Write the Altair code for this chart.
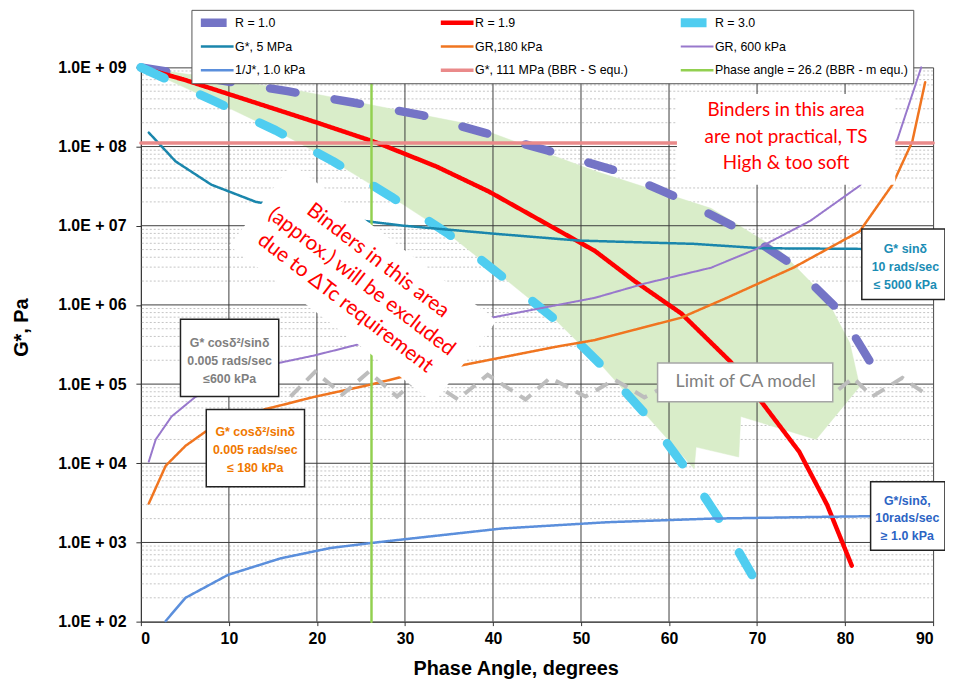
import altair as alt
import pandas as pd

# ---------------- data ----------------
# legend order (column-major: 3 rows x 3 columns)
SERIES = ["R = 1.0", "G*, 5 MPa", "1/J*, 1.0 kPa",
          "R = 1.9", "GR,180 kPa", "G*, 111 MPa (BBR - S equ.)",
          "R = 3.0", "GR, 600 kPa", "Phase angle = 26.2 (BBR - m equ.)"]

R10_X = [0, 16.67, 24.10, 31.88, 38.97, 46.18, 53.84, 60.82, 67.58, 73.89, 79.30, 83.35, 84.37]
R10_Y = [1.0e9, 5.0e8, 3.6e8, 2.5e8, 1.5e8, 8.9e7, 5.0e7, 2.3e7, 9.5e6, 3.3e6, 8.5e5, 1.55e5, 9.8e4]

R19_X = [0, 5.07, 20.05, 26.81, 33.57, 39.54, 51.59, 56.09, 61.39, 67.02, 70.74, 74.79, 77.95, 80.76]
R19_Y = [1.0e9, 6.9e8, 2.0e8, 1.12e8, 5.6e7, 2.7e7, 4.8e6, 2.0e6, 7.8e5, 1.9e5, 5.5e4, 1.4e4, 3.0e3, 5.1e2]

R30_X = [0, 8.45, 15.32, 21.85, 28.50, 34.92, 41.0, 47.08, 52.38, 57.45, 61.95, 66.23, 69.95, 70.74]
R30_Y = [1.0e9, 3.7e8, 1.6e8, 6.5e7, 2.3e7, 7.9e6, 2.3e6, 6.5e5, 1.7e5, 4.0e4, 8.5e3, 1.6e3, 3.1e2, 2.0e2]

G5_X = [0.90, 3.94, 8.00, 13.07, 25.34, 29.85, 40.32, 49.67, 62.85, 70.40, 81.77, 90]
G5_Y = [1.5e8, 6.5e7, 3.3e7, 2.0e7, 1.15e7, 1.0e7, 7.9e6, 6.5e6, 5.9e6, 5.2e6, 5.1e6, 5.1e6]

GR180_X = [0.90, 2.82, 5.07, 7.32, 14.08, 19.71, 26.02, 29.62, 36.61, 47.08, 51.59, 61.39, 66.57, 74.12, 81.66, 85.38, 87.63, 89.10]
GR180_Y = [3.1e3, 9.3e3, 1.66e4, 2.5e4, 4.8e4, 6.9e4, 9.8e4, 1.23e5, 1.74e5, 2.95e5, 3.6e5, 6.9e5, 1.23e6, 2.95e6, 8.5e6, 3.3e7, 1.15e8, 6.5e8]

GR600_X = [0.90, 1.69, 3.49, 6.20, 15.77, 19.71, 25.34, 39.54, 51.59, 57.22, 64.77, 69.95, 76.03, 81.66, 85.94, 88.65]
GR600_Y = [1.05e4, 2.0e4, 3.9e4, 6.9e4, 1.86e5, 2.3e5, 3.3e5, 6.8e5, 1.23e6, 1.86e6, 2.95e6, 5.1e6, 1.15e7, 3.2e7, 1.23e8, 1.0e9]

J1_X = [2.82, 5.07, 9.91, 15.88, 21.51, 26.02, 29.06, 41.0, 52.94, 64.77, 76.71, 90]
J1_Y = [1.02e2, 2.0e2, 3.9e2, 6.3e2, 8.5e2, 9.8e2, 1.07e3, 1.5e3, 1.8e3, 2.0e3, 2.1e3, 2.2e3]

G111_X = [0, 90]
G111_Y = [1.11e8, 1.11e8]

PA_X = [26.2, 26.2]
PA_Y = [1.0e2, 1.0e9]

# shaded region (polygon vertices, clockwise)
AREA_X = [0, 17.80, 36.95, 51.59, 64.77, 72.65, 77.83, 80.54, 81.66, 76.71, 68.15, 67.92, 63.08, 62.85,
          57.45, 52.38, 47.08, 41.0, 34.92, 28.50, 21.85, 15.32, 8.45]
AREA_Y = [1.0e9, 5.1e8, 1.95e8, 4.9e7, 1.66e7, 4.8e6, 1.23e6, 3.3e5, 9.3e4, 2.0e4, 3.9e4, 1.2e4, 1.6e4, 8.5e3,
          4.0e4, 1.7e5, 6.5e5, 2.3e6, 7.9e6, 2.3e7, 6.5e7, 1.6e8, 3.7e8]

# "Limit of CA model" grey zig-zag
CA_X = [17.0, 19.8, 22.9, 25.9, 29.1, 31.9, 36.0, 39.4, 43.7, 46.5, 50.5, 53.8, 57.2, 60.6, 64.0, 67.4,
        70.7, 74.1, 78.6, 80.9, 83.1, 86.5, 88.8]
CA_Y = [6.97e4, 1.43e5, 7.4e4, 1.43e5, 6.97e4, 1.31e5, 6.4e4, 1.31e5, 6.4e4, 1.2e5, 6.97e4, 1.14e5, 6.8e4,
        1.07e5, 6.8e4, 1.07e5, 6.8e4, 1.07e5, 7.4e4, 1.2e5, 6.97e4, 1.2e5, 8.0e4]

X_TICKS = [0, 10, 20, 30, 40, 50, 60, 70, 80, 90]
Y_TICKS = [1e2, 1e3, 1e4, 1e5, 1e6, 1e7, 1e8, 1e9]
X_GRID = [10, 20, 30, 40, 50, 60, 70, 80]
Y_GRID = [1e3, 1e4, 1e5, 1e6, 1e7, 1e8]
Y_MINOR = [k * 10.0 ** n for n in range(2, 9) for k in range(2, 10)]

# ---------------- styles ----------------
STYLE = {
    "R = 1.0": ("#7474c6", 8.5, [26, 40]),
    "R = 1.9": ("#ff0000", 4.5, [1, 0]),
    "R = 3.0": ("#4fcdf0", 9, [26, 40]),
    "G*, 5 MPa": ("#1a86ac", 2.5, [1, 0]),
    "GR,180 kPa": ("#f07520", 2.5, [1, 0]),
    "GR, 600 kPa": ("#9878cc", 2, [1, 0]),
    "1/J*, 1.0 kPa": ("#5b8fdc", 2.5, [1, 0]),
    "G*, 111 MPa (BBR - S equ.)": ("#ea8a8a", 3.5, [1, 0]),
    "Phase angle = 26.2 (BBR - m equ.)": ("#92d050", 2.5, [1, 0]),
}
COLORS = [STYLE[s][0] for s in SERIES]
WIDTHS = [STYLE[s][1] for s in SERIES]
DASHES = [STYLE[s][2] for s in SERIES]

AX_FONT = "Liberation Sans"

# annotation boxes (x1, x2, y1, y2, stroke)
BOXES = pd.DataFrame([
    dict(x1=4.5, x2=15.66, y1=6.97e4, y2=6.6e5, s="#222222"),
    dict(x1=7.43, x2=18.59, y1=5.05e3, y2=4.79e4, s="#222222"),
    dict(x1=81.9, x2=91.35, y1=1.17e6, y2=9.1e6, s="#222222"),
    dict(x1=82.9, x2=91.35, y1=7.98e2, y2=5.83e3, s="#222222"),
    dict(x1=58.7, x2=78.6, y1=6.0e4, y2=1.85e5, s="#a6a6a6"),
])
TEXTBG = pd.DataFrame([dict(x1=60.9, x2=85.7, y1=3.3e7, y2=4.6e8)])

# text anchors are at the first line
BOX_TEXT = pd.DataFrame([
    dict(x=10.08, y=3.3e5, t="G* cosδ²/sinδ\n0.005 rads/sec\n≤600 kPa", c="#7f7f7f"),
    dict(x=13.0, y=2.47e4, t="G* cosδ²/sinδ\n0.005 rads/sec\n≤ 180 kPa", c="#f07800"),
    dict(x=86.85, y=5.1e6, t="G* sinδ\n10 rads/sec\n≤ 5000 kPa", c="#1b8db5"),
    dict(x=87.07, y=3.37e3, t="G*/sinδ,\n10rads/sec\n≥ 1.0 kPa", c="#2c64c4"),
])
ROTBOX = pd.DataFrame([dict(x=25.23, y=1.88e6)])
ROTTXT = pd.DataFrame([dict(x=26.92, y=3.61e6,
                            t="Binders in this area\n(approx.) will be excluded\ndue to ΔTc requirement")])
TOPTXT = pd.DataFrame([dict(x=73.3, y=2.9e8, t="Binders in this area\nare not practical, TS\nHigh & too soft")])
CATXT = pd.DataFrame([dict(x=68.7, y=1.07e5, t="Limit of CA model")])

# ---------------- build ----------------
SRC = {"R = 1.0": (R10_X, R10_Y), "R = 1.9": (R19_X, R19_Y), "R = 3.0": (R30_X, R30_Y),
       "G*, 5 MPa": (G5_X, G5_Y), "GR,180 kPa": (GR180_X, GR180_Y), "GR, 600 kPa": (GR600_X, GR600_Y),
       "1/J*, 1.0 kPa": (J1_X, J1_Y), "G*, 111 MPa (BBR - S equ.)": (G111_X, G111_Y),
       "Phase angle = 26.2 (BBR - m equ.)": (PA_X, PA_Y)}
rows = []
for name, (xs, ys) in SRC.items():
    for i, (x, y) in enumerate(zip(xs, ys)):
        rows.append(dict(series=name, i=i, x=x, y=y))
curves = pd.DataFrame(rows)
area = pd.DataFrame(dict(x=AREA_X, y=AREA_Y, i=range(len(AREA_X))))
ca = pd.DataFrame(dict(x=CA_X, y=CA_Y, i=range(len(CA_X))))

XS = alt.Scale(domain=[0, 90], nice=False, zero=False)
YS = alt.Scale(type="log", domain=[1e2, 1e9], nice=False)

X_AXIS = alt.Axis(values=X_TICKS, title="Phase Angle, degrees", grid=False,
                  labelFont=AX_FONT, labelFontSize=16, labelFontWeight="bold", labelColor="black",
                  labelPadding=5, tickSize=4, tickColor="#333", domainColor="#333",
                  titleFont=AX_FONT, titleFontSize=20, titleFontWeight="bold", titleColor="black",
                  titleX=378, titleY=47, titleBaseline="middle")
Y_AXIS = alt.Axis(values=Y_TICKS, title="G*, Pa", grid=False,
                  labelExpr="'1.0E + 0' + round(log(datum.value)/LN10)",
                  labelFont=AX_FONT, labelFontSize=16, labelFontWeight="bold", labelColor="black",
                  labelPadding=10, tickSize=5, tickColor="#333", domainColor="#333",
                  titleFont=AX_FONT, titleFontSize=20, titleFontWeight="bold", titleColor="black",
                  titleX=-120, titleY=262, titleBaseline="middle")


def X(f="x"):
    return alt.X(f"{f}:Q", scale=XS, axis=X_AXIS)


def Y(f="y"):
    return alt.Y(f"{f}:Q", scale=YS, axis=Y_AXIS)


minor = alt.Chart(pd.DataFrame(dict(v=Y_MINOR))).mark_rule(
    color="#c4c4c4", strokeDash=[2, 2], strokeWidth=1).encode(y=Y("v"))

green = alt.Chart(area).mark_line(interpolate="linear-closed", fill="#d9edc9",
                                  stroke="#d9edc9", strokeWidth=0.5).encode(
    x=X(), y=Y(), order="i:Q")

gx = alt.Chart(pd.DataFrame(dict(v=X_GRID))).mark_rule(color="#3c3c3c", strokeWidth=1).encode(x=X("v"))
gy = alt.Chart(pd.DataFrame(dict(v=Y_GRID))).mark_rule(color="#3c3c3c", strokeWidth=1).encode(y=Y("v"))

LEG = dict(title=None, orient="none", legendX=51, legendY=-58, columns=3,
           symbolType="M-1,0L8.43,0", symbolSize=49, labelFont=AX_FONT, labelFontSize=12.5,
           labelLimit=400, padding=5, rowPadding=8, columnPadding=8, clipHeight=16, fillColor="white",
           strokeColor="#555555", gridAlign="all", labelOffset=23, labelColor="black")

lines = alt.Chart(curves).mark_line(strokeCap="round", strokeJoin="round").encode(
    x=X(), y=Y(), order="i:Q",
    color=alt.Color("series:N", scale=alt.Scale(domain=SERIES, range=COLORS), legend=alt.Legend(**LEG)),
    strokeDash=alt.StrokeDash("series:N", scale=alt.Scale(domain=SERIES, range=DASHES),
                              legend=alt.Legend(**LEG)),
    strokeWidth=alt.StrokeWidth("series:N", scale=alt.Scale(type="ordinal", domain=SERIES, range=WIDTHS),
                                legend=alt.Legend(**LEG)),
)

cal = alt.Chart(ca).mark_line(color="#bdbdbd", strokeDash=[14, 9], strokeWidth=4).encode(
    x=X(), y=Y(), order="i:Q")

rotbox = alt.Chart(ROTBOX).mark_point(shape="M-1,-0.4L1,-0.4L1,0.4L-1,0.4Z", size=67600, angle=37.5,
                                      filled=True, color="white", opacity=1, strokeWidth=0).encode(
    x=X(), y=Y())
rottxt = alt.Chart(ROTTXT).mark_text(angle=37.5, font="Lato", fontSize=21, color="#ff0000",
                                     lineBreak="\n", lineHeight=27, align="center", baseline="middle").encode(
    x=X(), y=Y(), text="t:N")

textbg = alt.Chart(TEXTBG).mark_rect(color="white").encode(x=X("x1"), x2="x2", y=Y("y1"), y2="y2")
toptxt = alt.Chart(TOPTXT).mark_text(font="Lato", fontSize=19, color="#ff0000", lineBreak="\n",
                                     lineHeight=27, align="center", baseline="middle").encode(
    x=X(), y=Y(), text="t:N")

boxes = alt.Chart(BOXES).mark_rect(fill="white", strokeWidth=1.5).encode(
    x=X("x1"), x2="x2", y=Y("y1"), y2="y2", stroke=alt.Stroke("s:N", scale=None))
boxtxt = alt.Chart(BOX_TEXT).mark_text(font=AX_FONT, fontSize=12.5, fontWeight="bold", lineBreak="\n",
                                       lineHeight=18, align="center", baseline="middle").encode(
    x=X(), y=Y(), text="t:N", color=alt.Color("c:N", scale=None))
catxt = alt.Chart(CATXT).mark_text(font="Lato", fontSize=18, color="#808080",
                                   align="center", baseline="middle").encode(x=X(), y=Y(), text="t:N")

chart = alt.layer(minor, green, gx, gy, lines, cal, rotbox, rottxt, textbg, toptxt, boxes, boxtxt, catxt
                  ).properties(
    width=799, height=559,
    autosize=alt.AutoSizeParams(type="none"),
    padding={"left": 134, "top": 57, "right": 12, "bottom": 58},
).configure_view(stroke="#444444", strokeWidth=1)

chart.save("out.html", embed_options={"renderer": "svg", "actions": False})
